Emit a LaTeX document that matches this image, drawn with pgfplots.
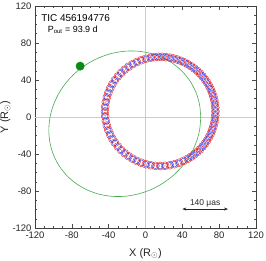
\documentclass[border=0pt]{standalone}
\usepackage{pgfplots}
\pgfplotsset{compat=1.18}
\usepackage{pgfplotstable}
\usepackage{fontspec}
\setmainfont{Liberation Sans}
\usetikzlibrary{arrows.meta}
\definecolor{ringred}{RGB}{230,50,50}
\definecolor{ringblue}{RGB}{55,55,230}
\definecolor{orbgreen}{RGB}{70,170,80}
\definecolor{dotgreen}{RGB}{10,140,20}

\pgfplotstableread{
x y
46.00 -45.10
49.55 -42.91
52.94 -40.49
56.15 -37.85
59.16 -34.98
61.96 -31.92
64.54 -28.68
66.88 -25.27
68.98 -21.70
70.81 -18.00
72.38 -14.18
73.68 -10.26
74.69 -6.27
75.42 -2.21
75.85 1.88
76.00 6.00
75.85 10.12
75.42 14.21
74.69 18.27
73.68 22.26
72.38 26.18
70.81 30.00
68.98 33.70
66.88 37.27
64.54 40.68
61.96 43.92
59.16 46.98
56.15 49.85
52.94 52.49
49.55 54.91
46.00 57.10
42.30 59.03
38.48 60.70
34.54 62.11
30.52 63.25
26.42 64.10
22.27 64.68
18.09 64.96
13.91 64.96
9.73 64.68
5.58 64.10
0.47 62.99
-4.52 61.44
-9.36 59.47
-14.00 57.10
-18.41 54.33
-22.57 51.20
-26.43 47.72
-29.96 43.92
-33.15 39.84
-35.96 35.50
-38.38 30.93
-40.38 26.18
-41.96 21.27
-43.09 16.25
-43.77 11.14
-44.00 6.00
-43.77 0.86
-43.09 -4.25
-41.96 -9.27
-40.38 -14.18
-38.38 -18.93
-35.96 -23.50
-33.15 -27.84
-29.96 -31.92
-26.43 -35.72
-22.57 -39.20
-18.41 -42.33
-14.00 -45.10
-9.36 -47.47
-4.52 -49.44
0.47 -50.99
5.58 -52.10
10.77 -52.78
16.00 -53.00
21.23 -52.78
26.42 -52.10
31.53 -50.99
36.52 -49.44
41.36 -47.47
}\ringtable

\pgfplotstableread{
x y
60.00 -0.30
58.75 13.20
55.03 26.09
48.95 37.96
40.70 48.46
30.53 57.25
18.75 64.09
5.72 68.76
-8.18 71.13
-22.50 71.10
-36.82 68.69
-50.72 63.98
-63.75 57.09
-75.53 48.25
-85.70 37.74
-93.95 25.84
-100.03 12.93
-103.75 -0.58
-105.00 -14.30
-103.75 -27.80
-100.03 -40.69
-93.95 -52.56
-85.70 -63.06
-75.53 -71.85
-63.75 -78.69
-50.72 -83.36
-36.82 -85.73
-22.50 -85.70
-8.18 -83.29
5.72 -78.58
18.75 -71.69
30.53 -62.85
40.70 -52.34
48.95 -40.44
55.03 -27.53
58.75 -14.02
60.00 -0.30
}\orbittable

\begin{document}
\begin{tikzpicture}
\begin{axis}[
  at={(0,0)}, anchor=south west,
  scale only axis, width=221bp, height=222bp,
  xmin=-120, xmax=120, ymin=-120, ymax=120,
  xtick={-120,-80,...,120}, ytick={-120,-80,...,120},
  minor tick num=3,
  tick align=inside,
  major tick length=4bp, minor tick length=2.5bp,
  every tick/.style={black!70, line width=0.5pt},
  axis line style={black!75, line width=0.7pt},
  /pgf/number format/assume math mode=true,
  ticklabel style={font=\fontsize{9.5}{11}\selectfont, black!85},
  xlabel={X (R$_\odot$)}, ylabel={Y (R$_\odot$)},
  label style={font=\fontsize{11}{13}\selectfont, black!85},
  xlabel style={at={(axis description cs:0.5,-0.075)}, anchor=north},
  ylabel style={at={(axis description cs:-0.095,0.5)}, anchor=south},
  clip=false,
]
\addplot[black!20, line width=0.6pt, forget plot] coordinates {(0,-120) (0,120)};
\addplot[black!20, line width=0.6pt, forget plot] coordinates {(-120,0) (120,0)};

\addplot[only marks, mark=o, mark size=4.0bp, ringred, mark options={line width=0.45pt}] table {\ringtable};
\addplot[only marks, mark=o, mark size=2.8bp, ringblue, mark options={line width=0.4pt}] table {\ringtable};

\addplot[orbgreen, line width=0.6pt, smooth] table {\orbittable};
\addplot[only marks, mark=*, mark size=4.2bp, dotgreen, mark options={fill=dotgreen, draw=dotgreen}] coordinates {(-71,55)};

\node[anchor=west, font=\fontsize{10}{12}\selectfont] at (axis cs:-117,107) {TIC 456194776};
\node[anchor=center, font=\fontsize{9}{11}\selectfont] at (axis cs:-79,94) {P\textsubscript{out} = 93.9 d};

\draw[{Stealth[length=4pt,width=3pt]}-{Stealth[length=4pt,width=3pt]}, black!85, line width=0.5pt] (axis cs:40,-99.5) -- (axis cs:89.6,-99.5);
\node[font=\fontsize{8.5}{10}\selectfont, black!85] at (axis cs:64.8,-93) {140 μas};
\end{axis}
\pgfresetboundingbox
\path (-35bp,-33bp) rectangle (231bp,228bp);
\end{tikzpicture}
\end{document}
